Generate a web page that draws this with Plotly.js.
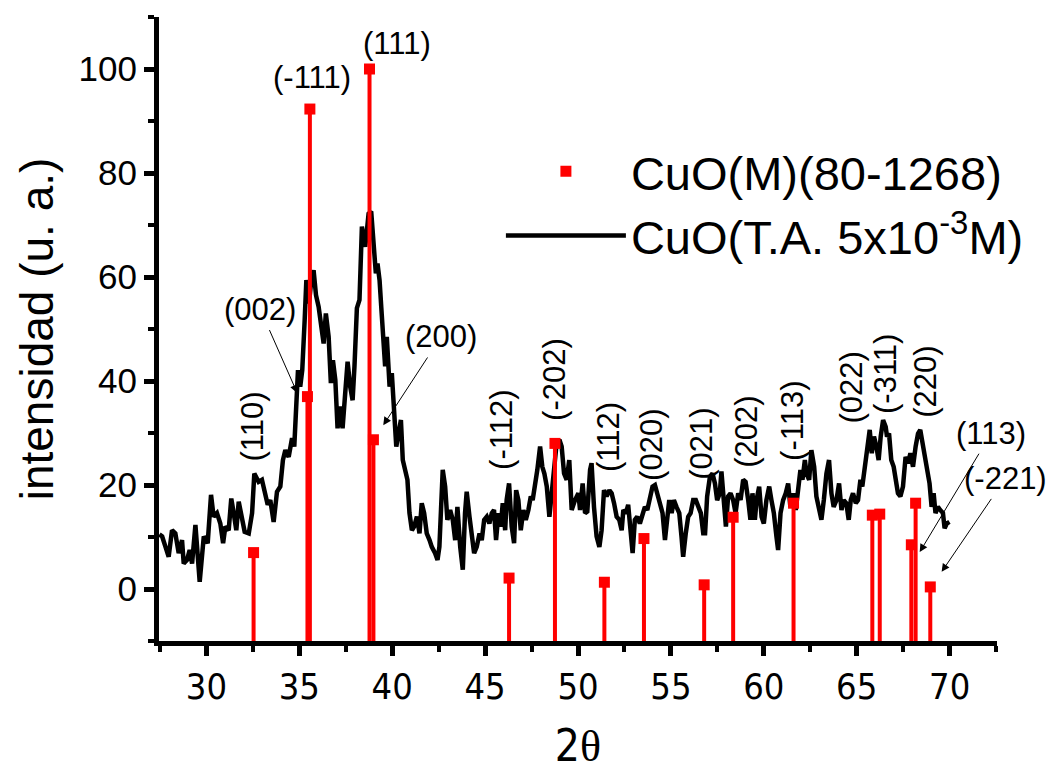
<!DOCTYPE html>
<html>
<head>
<meta charset="utf-8">
<script src="https://cdn.plot.ly/plotly-3.0.1.min.js"></script>
<style>html,body{margin:0;padding:0;background:#fff;}#chart{width:1057px;height:771px;}</style>
</head>
<body>
<div id="chart"></div>
<script>
// Reference pattern CuO(M)(80-1268): positions (2θ), relative intensities, Miller indices
const refPos = [32.54, 35.44, 35.57, 38.78, 38.99, 46.29, 48.76, 51.42, 53.55, 56.79, 58.35, 61.60, 65.84, 66.24, 67.94, 68.17, 68.96];
const refInt = [7.0, 37.0, 92.3, 100, 28.7, 2.1, 28.0, 1.3, 9.7, 0.8, 13.8, 16.5, 14.2, 14.4, 8.5, 16.5, 0.4];
const refHkl = ['(110)','(002)','(-111)','(111)','(200)','(-112)','(-202)','(112)','(020)','(021)','(202)','(-113)','(022)','(-311)','(113)','(220)','(-221)'];

// Measured pattern CuO(T.A. 5x10^-3 M)
const xrdX = [27.47,27.62,27.80,27.97,28.15,28.33,28.51,28.69,28.78,28.96,29.10,29.23,29.41,29.64,29.86,30.07,30.25,30.39,30.57,30.75,30.90,31.02,31.20,31.34,31.47,31.61,31.74,31.92,32.06,32.28,32.46,32.58,32.81,32.99,33.17,33.30,33.44,33.62,33.80,33.98,34.12,34.25,34.43,34.61,34.73,34.82,34.93,35.05,35.16,35.29,35.38,35.52,35.65,35.77,35.90,36.04,36.16,36.31,36.43,36.58,36.70,36.81,36.94,37.06,37.20,37.33,37.47,37.60,37.74,37.87,37.97,38.10,38.24,38.37,38.55,38.73,38.87,
39.00,39.12,39.21,39.32,39.41,39.50,39.62,39.71,39.86,39.98,40.07,40.22,40.34,40.47,40.57,40.70,40.82,40.93,41.06,41.18,41.33,41.47,41.59,41.72,41.86,42.01,42.13,42.31,42.44,42.54,42.72,42.85,42.97,43.12,43.26,43.39,43.51,43.66,43.80,43.92,44.01,44.16,44.28,44.41,44.55,44.70,44.82,44.95,45.09,45.23,45.36,45.48,45.59,45.72,45.84,45.95,46.08,46.16,46.29,46.43,46.56,46.67,46.79,46.92,47.06,47.19,47.33,47.46,47.56,47.69,47.81,47.96,48.08,48.19,48.32,48.46,48.58,48.71,48.85,49.00,49.12,49.25,49.39,49.53,49.66,49.84,50.02,
50.11,50.25,50.38,50.50,50.65,50.73,50.86,51.00,51.15,51.27,51.40,51.54,51.69,51.81,51.94,52.08,52.22,52.35,52.44,52.58,52.70,52.85,52.94,53.06,53.19,53.33,53.48,53.60,53.73,53.87,54.01,54.14,54.27,54.41,54.55,54.68,54.80,54.91,55.04,55.16,55.30,55.45,55.57,55.66,55.80,55.93,56.06,56.20,56.34,56.47,56.61,56.74,56.84,56.95,57.10,57.24,57.37,57.49,57.63,57.72,57.85,57.96,58.08,58.21,58.35,58.48,58.62,58.75,58.89,59.02,59.16,59.28,59.39,59.52,59.61,59.75,59.88,60.00,60.14,60.29,60.41,60.54,60.68,60.77,60.90,61.04,61.18,61.31,
61.43,61.58,61.72,61.85,61.97,62.08,62.21,62.30,62.44,62.56,62.71,62.83,62.97,63.10,63.23,63.37,63.51,63.64,63.76,63.91,64.05,64.18,64.30,64.44,64.57,64.68,64.80,64.95,65.07,65.20,65.30,65.43,65.56,65.70,65.81,65.93,66.06,66.18,66.29,66.42,66.56,66.63,66.74,66.86,66.99,67.10,67.22,67.35,67.49,67.63,67.76,67.89,68.03,68.17,68.30,68.42,68.56,68.69,68.80,68.92,69.03,69.14,69.24,69.37,69.49,69.64,69.73,69.85,69.99];
const xrdY = [10.5,10.1,8.1,6.2,11.3,10.7,6.9,9.4,4.9,5.6,7.5,4.9,12.3,1.4,10.1,8.8,18.1,13.9,14.6,12.6,8.8,12.0,11.3,17.4,14.6,11.3,16.8,13.9,11.0,10.7,14.6,22.2,20.6,21.0,18.4,16.2,17.1,12.9,18.7,19.7,24.8,26.7,25.4,29.0,27.4,36.3,42.1,38.9,42.1,51.7,59.4,54.9,59.4,61.3,56.5,54.3,50.4,47.2,53.0,48.5,39.6,44.0,40.2,30.9,35.1,30.9,37.6,43.7,38.9,36.3,42.8,54.0,55.6,69.7,65.8,72.2,72.6,
65.8,60.7,62.6,59.4,54.3,47.9,42.8,48.5,38.9,41.5,35.1,27.4,29.9,32.5,24.8,22.2,21.0,14.6,11.3,12.0,13.9,10.7,16.5,14.6,10.7,9.4,8.1,6.9,5.6,8.1,22.9,19.7,13.3,15.2,13.3,9.4,15.8,8.1,3.7,14.6,18.7,13.9,10.7,6.9,8.1,10.7,9.4,13.3,13.9,12.6,14.6,15.2,9.4,14.6,12.0,16.5,11.3,17.1,20.3,12.0,8.8,19.0,17.1,11.3,15.2,13.3,15.2,17.8,17.1,19.7,22.9,27.4,23.5,22.2,19.7,13.9,17.8,22.9,28.0,28.7,27.4,22.2,21.0,24.8,15.2,17.1,18.4,
15.2,20.3,14.6,14.9,22.9,24.2,15.8,10.1,8.1,11.3,19.0,17.8,19.0,18.4,16.5,13.9,13.3,11.3,15.2,14.6,16.2,10.7,6.9,13.3,13.9,12.6,14.6,15.8,15.2,17.1,19.7,20.0,18.4,17.1,14.6,9.4,12.6,17.1,14.6,17.1,15.8,14.6,10.1,6.2,10.7,13.9,14.6,17.1,17.1,15.8,14.6,10.7,10.7,17.8,21.6,22.2,20.3,17.1,18.4,22.6,17.1,12.0,17.8,18.4,17.1,14.6,18.4,17.1,21.0,20.6,17.1,13.3,18.4,13.3,17.1,19.7,13.9,12.6,17.1,19.7,17.1,14.6,10.1,7.5,14.6,17.1,18.4,20.3,
15.8,18.4,15.2,19.0,22.9,21.0,24.8,22.2,21.0,26.7,23.5,17.8,15.8,13.3,17.1,22.2,24.8,18.4,15.8,17.1,20.3,15.2,17.1,16.5,13.3,17.1,18.4,16.5,17.1,21.0,19.7,22.9,27.4,30.6,26.1,29.3,27.4,24.8,29.3,32.5,31.2,29.3,29.9,24.8,23.5,20.3,18.4,17.8,19.7,25.4,24.2,26.1,23.5,27.4,29.9,30.6,28.0,25.4,23.5,20.3,15.8,18.4,14.6,15.8,15.2,14.6,11.7,12.6,12.9];

const seriesNames = ['CuO(M)(80-1268)', 'CuO(T.A. 5x10<sup>-3</sup>M)'];
const axisBase = -10;

// Label placement (data coordinates) for the Miller-index annotations; tip = arrow target
const labelPos = {
  '(111)':  {x: 40.27, y: 105.0, a: 0},
  '(-111)': {x: 35.68, y: 98.3, a: 0},
  '(002)':  {x: 32.90, y: 53.8, a: 0, tip: [34.89, 37.7]},
  '(200)':  {x: 42.63, y: 48.5, a: 0, tip: [39.52, 31.5]},
  '(110)':  {x: 32.47, y: 31.3, a: -90},
  '(-112)': {x: 45.91, y: 30.6, a: -90},
  '(-202)': {x: 48.76, y: 40.4, a: -90},
  '(112)':  {x: 51.61, y: 29.2, a: -90},
  '(020)':  {x: 53.98, y: 27.7, a: -90},
  '(021)':  {x: 56.67, y: 27.9, a: -90},
  '(202)':  {x: 59.09, y: 30.2, a: -90},
  '(-113)': {x: 61.51, y: 32.3, a: -90},
  '(022)':  {x: 64.73, y: 38.7, a: -90},
  '(-311)': {x: 66.51, y: 41.3, a: -90},
  '(220)':  {x: 68.66, y: 39.8, a: -90},
  '(113)':  {x: 72.25, y: 30.0, a: 0, tip: [68.39, 7.1]},
  '(-221)': {x: 73.00, y: 21.3, a: 0, tip: [69.57, 3.3]}
};

const FONT = 'Liberation Sans, Arial, sans-serif';
const NARROW = 'Liberation Sans Narrow, Arial Narrow, DejaVu Sans Condensed, Liberation Sans, sans-serif';

const traces = [
  {
    x: xrdX, y: xrdY, type: 'scatter', mode: 'lines',
    name: seriesNames[1], legendrank: 2,
    line: {color: '#000000', width: 4.5}
  },
  {
    x: refPos, y: refInt, type: 'scatter', mode: 'markers',
    name: seriesNames[0], legendrank: 1,
    marker: {color: '#ff0000', symbol: 'square', size: 11},
    error_y: {type: 'data', symmetric: false, array: refInt.map(() => 0),
              arrayminus: refInt.map(v => v - axisBase), width: 0, thickness: 4, color: '#ff0000'}
  }
];

const annotations = [];
refHkl.forEach(h => {
  const p = labelPos[h];
  if (!p) return;
  const font = {family: FONT, size: 31, color: '#000'};
  if (p.tip) {
    annotations.push({x: p.tip[0], y: p.tip[1], ax: p.x, ay: p.y, xref: 'x', yref: 'y',
      axref: 'x', ayref: 'y', text: h, showarrow: true, arrowhead: 2, arrowsize: 1.6,
      arrowwidth: 1, arrowcolor: '#000', standoff: 0, startstandoff: 2, font: font});
  } else {
    annotations.push({x: p.x, y: p.y, xref: 'x', yref: 'y', text: h, showarrow: false,
      textangle: p.a, font: font});
  }
});

const layout = {
  width: 1057, height: 771,
  margin: {l: 158.6, r: 59.6, t: 17, b: 130, pad: 0},
  paper_bgcolor: '#ffffff', plot_bgcolor: '#ffffff',
  showlegend: true,
  legend: {x: 0.408, y: 0.812, xanchor: 'left', yanchor: 'top', bgcolor: 'rgba(0,0,0,0)',
           font: {family: FONT, size: 47, color: '#000'}, itemwidth: 120, tracegroupgap: 0},
  xaxis: {
    range: [27.45, 72.55], dtick: 5, tick0: 0, showgrid: false, zeroline: false,
    showline: true, linecolor: '#000', linewidth: 5, mirror: false,
    ticks: 'outside', ticklen: 10, tickwidth: 5, tickcolor: '#000',
    tickfont: {family: NARROW, size: 36, color: '#000'},
    minor: {dtick: 2.5, tick0: 0, ticks: 'outside', ticklen: 6, tickwidth: 4, tickcolor: '#000', showgrid: false},
    title: {text: '2<span style="font-family:Liberation Serif">θ</span>', font: {family: NARROW, size: 44, color: '#000'}},
    automargin: false
  },
  yaxis: {
    range: [-10, 110], dtick: 20, tick0: 0, showgrid: false, zeroline: false,
    showline: true, linecolor: '#000', linewidth: 5, mirror: false,
    ticks: 'outside', ticklen: 10, tickwidth: 5, tickcolor: '#000',
    tickfont: {family: FONT, size: 35, color: '#000'},
    minor: {dtick: 10, tick0: 0, ticks: 'outside', ticklen: 6, tickwidth: 4, tickcolor: '#000', showgrid: false},
    title: {text: 'intensidad (u. a.)', font: {family: FONT, size: 46, color: '#000'}},
    automargin: false
  },
  annotations: annotations
};

Plotly.newPlot('chart', traces, layout, {staticPlot: true, displayModeBar: false});
</script>
</body>
</html>
